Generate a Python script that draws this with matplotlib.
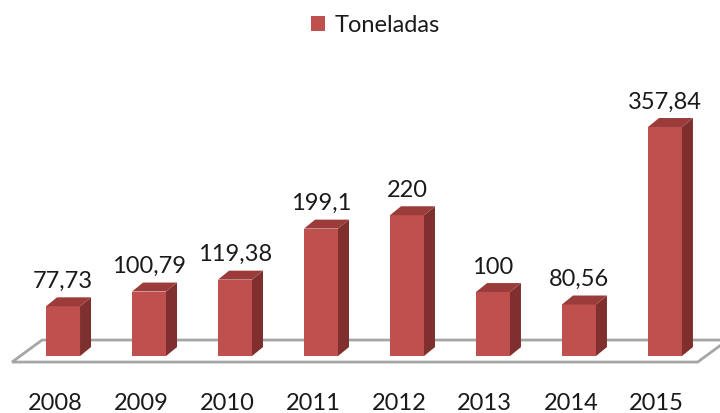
import matplotlib
matplotlib.use("Agg")
import matplotlib.pyplot as plt
from matplotlib.patches import Polygon, Patch

plt.rcParams['font.family'] = ['Lato', 'DejaVu Sans']

years = ['2008', '2009', '2010', '2011', '2012', '2013', '2014', '2015']
toneladas = [77.73, 100.79, 119.38, 199.1, 220, 100, 80.56, 357.84]
value_labels = ['77,73', '100,79', '119,38', '199,1', '220', '100', '80,56', '357,84']

front_c = '#c0504d'
side_c = '#7f302e'
top_c = '#9b3c3a'
floor_c = '#a6a6a6'

fig = plt.figure(figsize=(7.2, 4.14), dpi=100)
ax = fig.add_axes([0, 0, 1, 1])
ax.set_xlim(-0.733, 7.64)
ax.set_ylim(-89, 557.8)
ax.axis('off')

w = 0.395      # bar width (category units)
dx = 0.128     # depth offset in x
dy = 14.0      # depth offset in y (value units)

# floor
floor = Polygon([(-0.593, -9.4), (7.38, -9.4), (7.73, 25), (-0.244, 25)],
                closed=True, facecolor='white', edgecolor=floor_c, lw=2, zorder=1)
ax.add_patch(floor)

for i, v in enumerate(toneladas):
    x0 = i - w / 2
    x1 = i + w / 2
    front = Polygon([(x0, 0), (x1, 0), (x1, v), (x0, v)], closed=True,
                    facecolor=front_c, edgecolor='none', zorder=3)
    side = Polygon([(x1, 0), (x1 + dx, dy), (x1 + dx, v + dy), (x1, v)], closed=True,
                   facecolor=side_c, edgecolor='none', zorder=3)
    top = Polygon([(x0, v), (x1, v), (x1 + dx, v + dy), (x0 + dx, v + dy)], closed=True,
                  facecolor=top_c, edgecolor='none', zorder=3)
    for p in (front, side, top):
        ax.add_patch(p)
    ax.annotate(value_labels[i], (i, v + dy), xytext=(0, 7.5), textcoords='offset points',
                ha='center', va='baseline', fontsize=17, color='#1a1a1a', zorder=4)
    ax.text(i - 0.095, -72, years[i], ha='center', va='center', fontsize=17, color='#1a1a1a')

leg = ax.legend(handles=[Patch(facecolor=front_c, edgecolor='none', label='Toneladas')],
                loc='center', bbox_to_anchor=(0.521, 1 - 26 / 414), frameon=False,
                fontsize=17, handlelength=0.6, handleheight=0.6, handletextpad=0.4,
                borderpad=0, borderaxespad=0)
for t in leg.get_texts():
    t.set_color('#1a1a1a')

fig.savefig('out.png', dpi=100)
